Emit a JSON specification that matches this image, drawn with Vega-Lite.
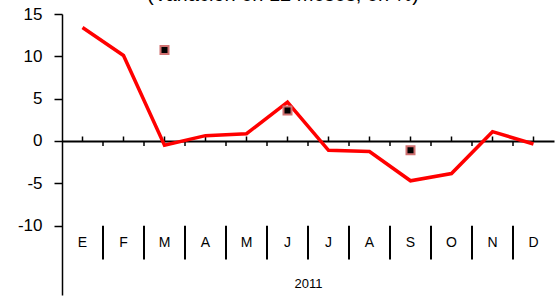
{
  "$schema": "https://vega.github.io/schema/vega-lite/v6.json",
  "autosize": "none",
  "width": 492,
  "height": 281,
  "padding": {"left": 62, "top": 14, "right": 1, "bottom": 2},
  "background": "white",
  "title": {"text": "(Variación en 12 meses, en %)", "font": "Liberation Sans", "fontSize": 20, "fontWeight": "normal", "color": "black", "baseline": "alphabetic", "offset": -16, "anchor": "middle", "dx": -25},
  "config": {"view": {"stroke": null}, "font": "Liberation Sans"},
  "datasets": {
    "series": [
      {"m": 1, "name": "E", "v": 13.4, "s": null},
      {"m": 2, "name": "F", "v": 10.1, "s": null},
      {"m": 3, "name": "M", "v": -0.5, "s": 10.75},
      {"m": 4, "name": "A", "v": 0.63, "s": null},
      {"m": 5, "name": "M", "v": 0.86, "s": null},
      {"m": 6, "name": "J", "v": 4.6, "s": 3.6},
      {"m": 7, "name": "J", "v": -1.1, "s": null},
      {"m": 8, "name": "A", "v": -1.25, "s": null},
      {"m": 9, "name": "S", "v": -4.7, "s": -1.1},
      {"m": 10, "name": "O", "v": -3.85, "s": null},
      {"m": 11, "name": "N", "v": 1.1, "s": null},
      {"m": 12, "name": "D", "v": -0.35, "s": null}
    ]
  },
  "data": {"name": "series"},
  "resolve": {"scale": {"x": "shared", "y": "shared"}, "axis": {"x": "independent"}},
  "layer": [
    {
      "mark": {"type": "rule", "color": "black", "strokeWidth": 1.5},
      "transform": [{"filter": "datum.m > 1"}],
      "encoding": {
        "x": {"field": "m", "type": "ordinal", "bandPosition": 0, "scale": {"paddingInner": 0, "paddingOuter": 0},
          "axis": {"orient": "bottom", "title": "2011", "titleFontSize": 13, "titleFontWeight": "normal", "titleColor": "black", "titleFont": "Liberation Sans", "titleY": -8, "titleBaseline": "alphabetic", "labels": false, "ticks": false, "domain": false}},
        "y": {"datum": 0, "type": "quantitative", "scale": {"domain": [-18.19, 15], "nice": false, "zero": false},
          "axis": {"values": [-10, -5, 0, 5, 10, 15], "labelExpr": "toString(datum.value)", "title": null, "grid": false, "domainColor": "black", "domainWidth": 1.5, "tickColor": "black", "tickWidth": 1.5, "tickSize": 8, "labelFontSize": 17, "labelColor": "black", "labelPadding": 12, "labelFont": "Liberation Sans"}},
        "y2": {"datum": -0.6}
      }
    },
    {
      "mark": {"type": "rule", "color": "black", "strokeWidth": 2},
      "transform": [{"filter": "datum.m > 1"}],
      "encoding": {
        "x": {"field": "m", "type": "ordinal", "bandPosition": 0, "axis": null},
        "y": {"datum": -10, "type": "quantitative"},
        "y2": {"datum": -14}
      }
    },
    {
      "mark": {"type": "text", "font": "Liberation Sans", "fontSize": 14, "color": "black", "baseline": "middle", "align": "center"},
      "encoding": {
        "x": {"field": "m", "type": "ordinal", "axis": null},
        "y": {"datum": -12, "type": "quantitative"},
        "text": {"field": "name"}
      }
    },
    {
      "mark": {"type": "line", "color": "#FF0000", "strokeWidth": 3.5},
      "encoding": {
        "x": {"field": "m", "type": "ordinal", "axis": null},
        "y": {"field": "v", "type": "quantitative"}
      }
    },
    {
      "mark": {"type": "square", "size": 64, "filled": true, "color": "black", "stroke": "#D07070", "strokeWidth": 2, "opacity": 1},
      "transform": [{"filter": "datum.s != null"}],
      "encoding": {
        "x": {"field": "m", "type": "ordinal",
          "axis": {"orient": "top", "offset": -127, "title": null, "labels": false, "domain": true, "domainColor": "black", "domainWidth": 2, "tickBand": "center", "tickSize": 5, "tickColor": "black", "tickWidth": 1.5}},
        "y": {"field": "s", "type": "quantitative"}
      }
    }
  ]
}
